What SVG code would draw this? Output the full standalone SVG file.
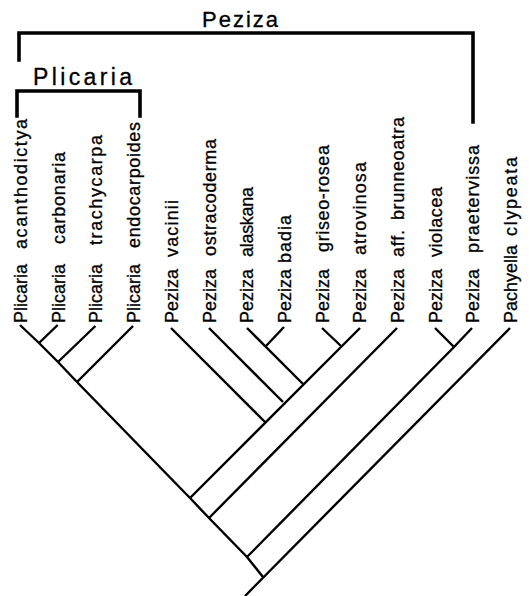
<svg xmlns="http://www.w3.org/2000/svg" width="530" height="596" viewBox="0 0 530 596">
<style>
.br{fill:none;stroke:#000;stroke-width:3.6;stroke-linecap:square;stroke-linejoin:miter}
.ln{fill:none;stroke:#000;stroke-width:2.4;stroke-linecap:butt;stroke-linejoin:miter}
.lbl{font-family:"Liberation Sans",Arial,sans-serif;font-size:18px;fill:#000;stroke:#000;stroke-width:0.3}
.hd{font-family:"Liberation Sans",Arial,sans-serif;fill:#000;stroke:#000;stroke-width:0.3}
</style>
<rect width="530" height="596" fill="#fff"/>
<g id="bracket-peziza">
<path class="br" d="M19,60 V33 H473 V122"/>
<text class="hd" x="202" y="27" font-size="22" textLength="76" lengthAdjust="spacing">Peziza</text>
</g>
<g id="bracket-plicaria">
<path class="br" d="M17,116 V91 H140 V116"/>
<text class="hd" x="33" y="85" font-size="23" textLength="99" lengthAdjust="spacing">Plicaria</text>
</g>
<g id="connectors">
<polyline class="ln" points="20,325 39,343 58,362 77,382 190,498 209,518 247,557 263,577"/>
<line class="ln" x1="57.7" y1="325" x2="39" y2="343"/>
<line class="ln" x1="95.4" y1="326" x2="58" y2="362"/>
<line class="ln" x1="133" y1="326" x2="77" y2="382"/>
<line class="ln" x1="171" y1="328" x2="265" y2="422"/>
<line class="ln" x1="209" y1="328" x2="283" y2="402"/>
<line class="ln" x1="247" y1="328" x2="303" y2="384"/>
<line class="ln" x1="284" y1="327" x2="266" y2="346"/>
<line class="ln" x1="322" y1="328" x2="341" y2="346"/>
<line class="ln" x1="360" y1="328" x2="190" y2="498"/>
<line class="ln" x1="397" y1="328" x2="209" y2="518"/>
<line class="ln" x1="435" y1="328" x2="454" y2="347"/>
<polyline class="ln" points="472,328 454,347 247,557"/>
<line class="ln" x1="510" y1="328" x2="245" y2="596"/>
</g>
<g id="tip-plicaria-acanthodictya"><text class="lbl" transform="translate(27,323) rotate(-90)"><tspan x="0">Plicaria</tspan> <tspan x="74" textLength="130" lengthAdjust="spacing">acanthodictya</tspan></text></g>
<g id="tip-plicaria-carbonaria"><text class="lbl" transform="translate(64.7,323) rotate(-90)"><tspan x="0">Plicaria</tspan> <tspan x="79" textLength="92" lengthAdjust="spacing">carbonaria</tspan></text></g>
<g id="tip-plicaria-trachycarpa"><text class="lbl" transform="translate(102.4,323) rotate(-90)"><tspan x="0">Plicaria</tspan> <tspan x="78" textLength="110" lengthAdjust="spacing">trachycarpa</tspan></text></g>
<g id="tip-plicaria-endocarpoides"><text class="lbl" transform="translate(140.1,323) rotate(-90)"><tspan x="0">Plicaria</tspan> <tspan x="75" textLength="126" lengthAdjust="spacing">endocarpoides</tspan></text></g>
<g id="tip-peziza-vacinii"><text class="lbl" transform="translate(177.8,323) rotate(-90)"><tspan x="0">Peziza</tspan> <tspan x="66" textLength="57" lengthAdjust="spacing">vacinii</tspan></text></g>
<g id="tip-peziza-ostracoderma"><text class="lbl" transform="translate(215.5,323) rotate(-90)"><tspan x="0">Peziza</tspan> <tspan x="67" textLength="117" lengthAdjust="spacing">ostracoderma</tspan></text></g>
<g id="tip-peziza-alaskana"><text class="lbl" transform="translate(253.2,323) rotate(-90)"><tspan x="0">Peziza</tspan> <tspan x="66" textLength="70" lengthAdjust="spacing">alaskana</tspan></text></g>
<g id="tip-peziza-badia"><text class="lbl" transform="translate(290.9,323) rotate(-90)"><tspan x="0">Peziza</tspan> <tspan x="60" textLength="48" lengthAdjust="spacing">badia</tspan></text></g>
<g id="tip-peziza-griseo-rosea"><text class="lbl" transform="translate(328.6,323) rotate(-90)"><tspan x="0">Peziza</tspan> <tspan x="71" textLength="107" lengthAdjust="spacing">griseo-rosea</tspan></text></g>
<g id="tip-peziza-atrovinosa"><text class="lbl" transform="translate(366.3,323) rotate(-90)"><tspan x="0">Peziza</tspan> <tspan x="68" textLength="93" lengthAdjust="spacing">atrovinosa</tspan></text></g>
<g id="tip-peziza-aff-brunneoatra"><text class="lbl" transform="translate(404,323) rotate(-90)"><tspan x="0">Peziza</tspan> <tspan x="66" textLength="27" lengthAdjust="spacing">aff.</tspan> <tspan x="103" textLength="103" lengthAdjust="spacing">brunneoatra</tspan></text></g>
<g id="tip-peziza-violacea"><text class="lbl" transform="translate(441.7,323) rotate(-90)"><tspan x="0">Peziza</tspan> <tspan x="66" textLength="70" lengthAdjust="spacing">violacea</tspan></text></g>
<g id="tip-peziza-praetervissa"><text class="lbl" transform="translate(479.4,323) rotate(-90)"><tspan x="0">Peziza</tspan> <tspan x="70" textLength="108" lengthAdjust="spacing">praetervissa</tspan></text></g>
<g id="tip-pachyella-clypeata"><text class="lbl" transform="translate(517,323) rotate(-90)"><tspan x="0">Pachyella</tspan> <tspan x="87" textLength="79" lengthAdjust="spacing">clypeata</tspan></text></g>
</svg>
